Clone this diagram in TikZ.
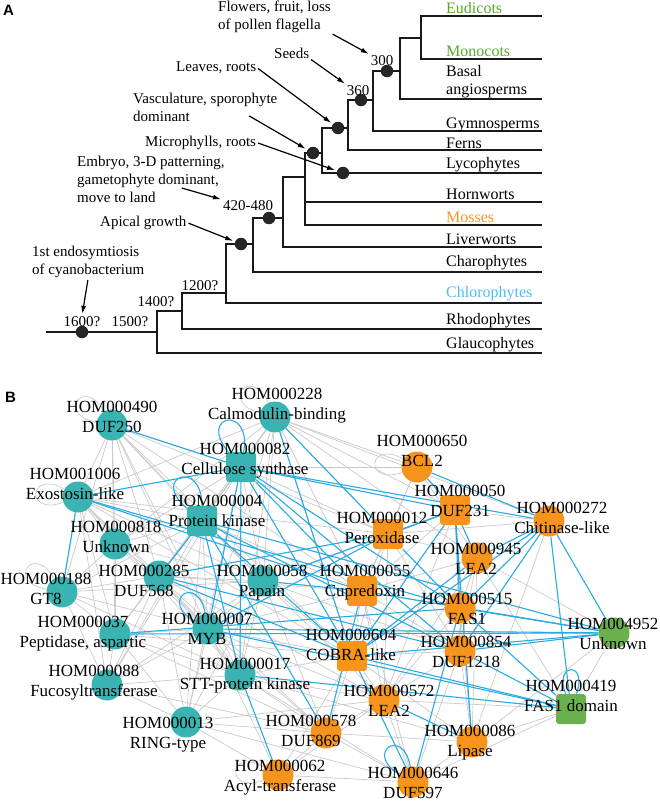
\documentclass[tikz,border=0pt]{standalone}
\usepackage{fontspec}
\setmainfont{Liberation Serif}
\newfontfamily\panelfont{Liberation Sans}
\usetikzlibrary{arrows.meta}
\pgfdeclarelayer{edges}
\pgfdeclarelayer{labels}
\pgfsetlayers{edges,main,labels}
\definecolor{homteal}{RGB}{58,180,178}
\definecolor{homorange}{RGB}{247,148,29}
\definecolor{homgreen}{RGB}{106,176,76}
\definecolor{linkblue}{RGB}{41,171,226}
\definecolor{linkgray}{RGB}{202,202,202}
\definecolor{eudigreen}{RGB}{84,170,45}
\definecolor{chloroblue}{RGB}{79,190,238}
\newcommand{\homnode}[6]{%
 \node[#3] (#1) at (#2) {};%
 \begin{pgfonlayer}{labels}%
  \node[homlabel] (#1l) at (#4) {#5\\#6};%
 \end{pgfonlayer}%
}

\begin{document}
\begin{tikzpicture}[x=1pt,y=-1pt,
  branch/.style={line width=2.2pt,draw=black!90},
  treedot/.style={circle,fill=black!85,inner sep=0,minimum size=12.5pt},
  leaflabel/.style={font=\fontsize{16}{18}\selectfont,anchor=base west,inner sep=0},
  eventnote/.style={font=\fontsize{15}{18}\selectfont,align=left,inner sep=0},
  agelabel/.style={font=\fontsize{15}{18}\selectfont,anchor=base,inner sep=0},
  pointer/.style={-{Latex[length=8pt,width=5pt]},line width=1.2pt,shorten >=2pt,shorten <=2pt},
  homc/.style={circle,inner sep=0,minimum size=31pt},
  homs/.style={rectangle,rounded corners=3pt,inner sep=0,minimum size=30pt},
  tealcirc/.style={homc,fill=homteal},
  tealbox/.style={homs,fill=homteal},
  orangecirc/.style={homc,fill=homorange},
  orangebox/.style={homs,fill=homorange},
  greencirc/.style={homc,fill=homgreen},
  greenbox/.style={homs,fill=homgreen},
  homlabel/.style={font=\fontsize{17}{20}\selectfont,align=center,inner sep=0},
  greylink/.style={draw=linkgray,line width=0.7pt},
  bluelink/.style={draw=linkblue,line width=1.1pt},
  selfloop/.style={looseness=8,min distance=22pt}]
  \useasboundingbox (0,0) rectangle (660,803);

  % A: tree
  \node[font={\panelfont\bfseries\fontsize{15}{18}\selectfont},anchor=base west,inner sep=0] (panelA) at (3,16) {A};
  \draw[branch] (46,332) -- (157,332);
  \foreach \xa/\xb/\ya/\yb in {157/182/311/353, 182/226/293/329, 226/253/244/303, 253/283/218/272,
    283/305/177/247, 305/322/153/225, 322/348/128/173, 348/373/100/150, 373/400/71/131,
    400/421/38/99, 421/542/16/59}
    \draw[branch] (\xb,\ya) -- (\xa,\ya) -- (\xa,\yb) -- (542,\yb);
  \draw[branch] (305,202) -- (542,202);

  \node[treedot] (d300) at (387,71) {};
  \node[treedot] (d360) at (361,100) {};
  \node[treedot] (dleaf) at (338,128) {};
  \node[treedot] (dvasc) at (313,153) {};
  \node[treedot] (dlyco) at (343,173) {};
  \node[treedot] (d420) at (269,218) {};
  \node[treedot] (dapical) at (241,244) {};
  \node[treedot] (d1600) at (82,332) {};

  \node[agelabel] (a300) at (382,65) {300};
  \node[agelabel] (a360) at (358,95) {360};
  \node[agelabel] (a420) at (248,210) {420-480};
  \node[agelabel] (a1200) at (200,290) {1200?};
  \node[agelabel] (a1400) at (156,306) {1400?};
  \node[agelabel] (a1600) at (82,326) {1600?};
  \node[agelabel] (a1500) at (130,326) {1500?};

  \node[leaflabel,text=eudigreen] (eudicots) at (446,13) {Eudicots};
  \node[leaflabel,text=eudigreen] (monocots) at (446,56) {Monocots};
  \node[leaflabel] (basal) at (446,76) {Basal};
  \node[leaflabel] (angio) at (446,94) {angiosperms};
  \node[leaflabel] (gymno) at (446,128) {Gymnosperms};
  \node[leaflabel] (ferns) at (446,148) {Ferns};
  \node[leaflabel] (lyco) at (446,168) {Lycophytes};
  \node[leaflabel] (horn) at (446,199) {Hornworts};
  \node[leaflabel,text=homorange] (mosses) at (446,222) {Mosses};
  \node[leaflabel] (liver) at (446,244) {Liverworts};
  \node[leaflabel] (charo) at (446,266) {Charophytes};
  \node[leaflabel,text=chloroblue] (chloro) at (446,297) {Chlorophytes};
  \node[leaflabel] (rhodo) at (446,324) {Rhodophytes};
  \node[leaflabel] (glauco) at (446,348) {Glaucophytes};

  \node[eventnote,anchor=north west] (flowers) at (218,1) {Flowers, fruit, loss\\of pollen flagella};
  \node[eventnote,anchor=base west] (seeds) at (274,58) {Seeds};
  \node[eventnote,anchor=base west] (leaves) at (176,71) {Leaves, roots};
  \node[eventnote,anchor=north west] (vasc) at (133,93) {Vasculature, sporophyte\\dominant};
  \node[eventnote,anchor=base west] (micro) at (145,146) {Microphylls, roots};
  \node[eventnote,anchor=north west] (embryo) at (77,156) {Embryo, 3-D patterning,\\gametophyte dominant,\\move to land};
  \node[eventnote,anchor=base west] (apical) at (100,226) {Apical growth};
  \node[eventnote,anchor=north west] (endo) at (32,246) {1st endosymtiosis\\of cyanobacterium};

  \draw[pointer] (flowers.south east) -- (a300.north west);
  \draw[pointer] (seeds.south east) -- (a360.north west);
  \draw[pointer] (leaves.east) -- (dleaf);
  \draw[pointer] ([xshift=-30pt,yshift=7pt]vasc.south east) -- (dvasc);
  \draw[pointer] (micro.east) -- (dlyco);
  \draw[pointer] ([xshift=-45pt,yshift=-8pt]embryo.east) -- (a420.north west);
  \draw[pointer] (apical.east) -- (dapical);
  \draw[pointer] (endo.south) -- (a1600.north);

  % B: network
  \node[font={\panelfont\bfseries\fontsize{15}{18}\selectfont},anchor=base west,inner sep=0] (panelB) at (5,402) {B};
  \homnode{h490}{112,425}{tealcirc}{112,417}{HOM000490}{DUF250}
  \homnode{h228}{275,417}{tealcirc}{277,406}{HOM000228}{Calmodulin-binding}
  \homnode{h082}{241,467}{tealbox}{245,461}{HOM000082}{Cellulose synthase}
  \homnode{h1006}{78,497}{tealcirc}{75,484}{HOM001006}{Exostosin-like}
  \homnode{h004}{202,521}{tealbox}{217,511}{HOM000004}{Protein kinase}
  \homnode{h818}{115,544}{tealcirc}{116,537}{HOM000818}{Unknown}
  \homnode{h188}{62,592}{tealcirc}{46,589}{HOM000188}{GT8}
  \homnode{h285}{159,576}{tealcirc}{144,581}{HOM000285}{DUF568}
  \homnode{h058}{263,581}{tealcirc}{262,583}{HOM000058}{Papain}
  \homnode{h007}{208,629}{tealcirc}{207,629}{HOM000007}{MYB}
  \homnode{h037}{115,634}{tealcirc}{83,634}{HOM000037}{Peptidase, aspartic}
  \homnode{h088}{107,685}{tealcirc}{94,683}{HOM000088}{Fucosyltransferase}
  \homnode{h017}{240,675}{tealcirc}{245,676}{HOM000017}{STT-protein kinase}
  \homnode{h013}{186,722}{tealcirc}{168,735}{HOM000013}{RING-type}
  \homnode{h062}{278,775}{orangecirc}{280,778}{HOM000062}{Acyl-transferase}
  \homnode{h578}{326,733}{orangecirc}{311,731}{HOM000578}{DUF869}
  \homnode{h646}{413,782}{orangecirc}{413,783}{HOM000646}{DUF597}
  \homnode{h086}{472,742}{orangecirc}{470,743}{HOM000086}{Lipase}
  \homnode{h572}{384,700}{orangecirc}{389,701}{HOM000572}{LEA2}
  \homnode{h604}{352,656}{orangebox}{351,645}{HOM000604}{COBRA-like}
  \homnode{h854}{460,651}{orangecirc}{466,652}{HOM000854}{DUF1218}
  \homnode{h515}{460,608}{orangecirc}{467,609}{HOM000515}{FAS1}
  \homnode{h055}{362,591}{orangebox}{365,583}{HOM000055}{Cupredoxin}
  \homnode{h012}{388,534}{orangebox}{382,528}{HOM000012}{Peroxidase}
  \homnode{h050}{455,510}{orangebox}{460,501}{HOM000050}{DUF231}
  \homnode{h650}{417,467}{orangecirc}{422,451}{HOM000650}{BCL2}
  \homnode{h272}{549,521}{orangecirc}{562,518}{HOM000272}{Chitinase-like}
  \homnode{h945}{477,558}{orangecirc}{476,559}{HOM000945}{LEA2}
  \homnode{h4952}{614,633}{greencirc}{613,634}{HOM004952}{Unknown}
  \homnode{h419}{571,709}{greenbox}{571,696}{HOM000419}{FAS1 domain}

  \begin{pgfonlayer}{edges}
  \foreach \a/\b in {h490/h1006, h490/h004, h490/h818, h490/h285, h490/h058, h490/h007, h490/h017,
    h490/h082, h490/h188, h490/h037, h490/h055, h490/h604, h490/h012,
    h228/h082, h228/h004, h228/h058, h228/h007, h228/h017, h228/h055, h228/h012, h228/h650,
    h228/h050, h228/h604, h228/h1006, h228/h285, h228/h818, h228/h272, h228/h945,
    h1006/h818, h1006/h004, h1006/h285, h1006/h188, h1006/h037, h1006/h007, h1006/h058,
    h1006/h017, h1006/h088, h1006/h604, h1006/h012,
    h082/h004, h082/h818, h082/h285, h082/h058, h082/h037, h082/h012, h082/h650, h082/h088, h082/h013,
    h004/h818, h004/h058, h004/h007, h004/h037, h004/h188, h004/h055, h004/h013, h004/h088,
    h818/h285, h818/h188, h818/h007, h818/h037, h818/h058,
    h188/h285, h188/h037, h188/h088, h188/h007, h188/h017, h188/h058,
    h285/h058, h285/h007, h285/h037, h285/h088, h285/h017, h285/h013, h285/h055, h285/h572, h285/h578,
    h058/h007, h058/h017, h058/h604, h058/h013, h058/h578, h058/h012, h058/h572, h058/h854,
    h007/h037, h007/h088, h007/h017, h007/h013, h007/h055, h007/h604, h007/h578, h007/h572, h007/h062,
    h037/h088, h037/h017, h037/h013, h037/h604, h037/h578, h088/h017, h088/h013, h088/h058, h088/h578,
    h017/h013, h017/h578, h017/h604, h017/h572, h017/h646, h017/h086, h013/h578, h013/h062, h013/h646,
    h013/h572, h650/h050, h650/h012, h650/h945, h650/h055,
    h012/h055, h012/h945, h012/h604, h012/h854, h012/h272, h012/h572,
    h050/h272, h050/h854, h050/h055, h050/h572, h050/h086,
    h272/h086, h945/h515, h945/h854, h945/h055, h945/h419, h945/h086, h945/h572,
    h055/h515, h055/h604, h055/h854, h055/h572, h055/h646,
    h515/h854, h515/h572, h515/h086, h604/h854, h604/h572, h604/h578, h604/h062, h604/h086,
    h854/h572, h854/h086, h854/h646, h572/h578, h572/h646, h572/h062, h572/h419,
    h578/h062, h578/h646, h578/h086, h646/h086, h646/h419, h646/h062, h086/h419,
    h4952/h419, h4952/h086, h4952/h945}
    \path[greylink] (\a) edge (\b);
  \foreach \n/\o/\i in {h228/165/115, h1006/200/150, h188/170/120, h650/200/150, h062/200/150, h490/170/120}
    \path[greylink] (\n) edge[selfloop,out=\o,in=\i] (\n);
  \foreach \a/\b in {h490/h082, h1006/h082, h1006/h188, h1006/h515, h1006/h055,
    h004/h285, h004/h017, h004/h578, h004/h604, h004/h854, h004/h4952,
    h082/h050, h082/h272, h082/h007, h082/h017, h082/h604, h082/h515, h082/h055, h082/h854,
    h228/h012, h228/h604, h285/h012, h285/h604, h285/h854, h058/h055, h058/h050,
    h007/h4952, h007/h419, h007/h012, h037/h4952, h037/h515, h017/h062, h017/h419,
    h604/h4952, h604/h419, h604/h646, h604/h945, h572/h086,
    h515/h4952, h854/h4952, h854/h419, h515/h419,
    h272/h419, h272/h854, h272/h4952, h272/h604, h272/h515,
    h050/h012, h050/h515, h050/h604, h050/h945, h650/h272, h650/h050,
    h945/h272, h012/h515, h646/h515, h086/h050, h055/h4952, h578/h055}
    \path[bluelink] (\a) edge (\b);
  \foreach \n/\o/\i in {h082/130/80, h004/140/90, h007/150/100, h646/150/100, h419/110/70}
    \path[bluelink] (\n) edge[selfloop,out=\o,in=\i] (\n);
  \end{pgfonlayer}
\end{tikzpicture}
\end{document}
